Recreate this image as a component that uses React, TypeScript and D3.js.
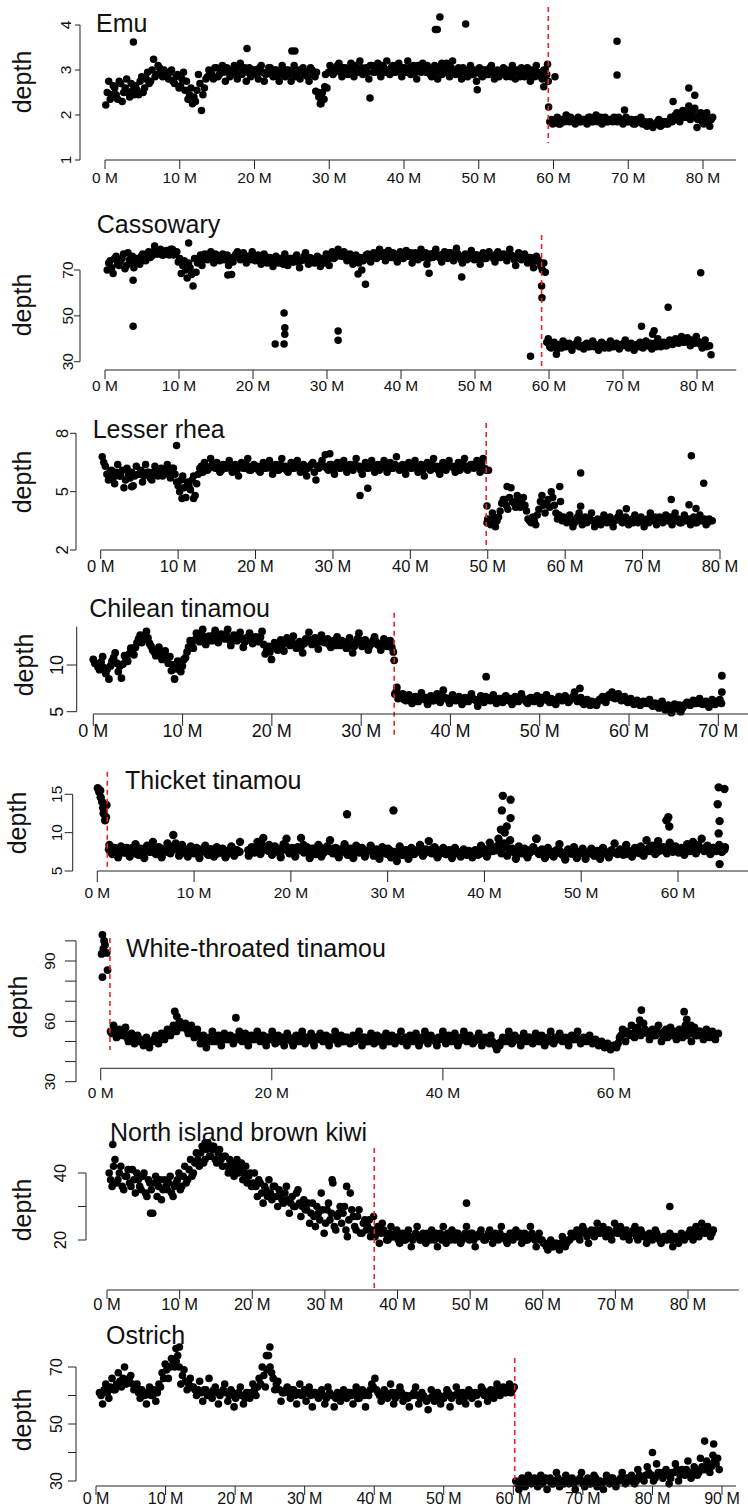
import React, { useEffect } from 'react';
import * as d3 from 'd3';

// ---------------- DATA (depth per window; positions in Mb) ----------------
// Each genome has two interleaved window series (A and B, offset by half a step) plus isolated outliers.
const emuStart = 0.1, emuStartB = 0.3, emuStep = 0.4, emuBreak = 59.3;
const emuDepth = [
  2.22, 2.75, 2.45, 2.6, 2.35, 2.7, 2.5, 2.8, 2.4, 2.55,
  2.65, 2.45, 2.85, 2.6, 2.95, 2.75, 3.24, 2.9, 3.05, 2.85,
  2.95, 2.8, 3.0, 2.7, 2.9, 2.65, 2.95, 2.75, 2.45, 2.25,
  2.3, 2.9, 2.1, 2.6, 2.85, 2.95, 2.8, 3.05, 2.9, 3.1,
  2.75, 3.0, 2.9, 3.1, 2.8, 3.15, 2.95, 2.75, 3.05, 2.9,
  3.0, 2.8, 3.1, 2.75, 2.95, 3.05, 2.85, 3.0, 2.75, 3.1,
  2.85, 3.0, 2.75, 3.1, 2.9, 2.8, 3.05, 2.95, 2.75, 3.0,
  2.85, 2.5, 2.25, 2.35, 2.6, 3.1, 2.9, 3.0, 3.15, 2.85,
  3.05, 2.9, 3.15, 2.85, 3.0, 3.2, 2.9, 3.05, 2.8, 3.1,
  2.95, 3.15, 2.85, 3.05, 3.2, 2.9, 3.1, 2.95, 3.15, 2.85,
  3.05, 3.2, 2.9, 3.1, 2.8, 3.0, 3.15, 2.95, 3.05, 2.85,
  3.1, 2.8, 3.0, 2.95, 3.15, 2.85, 3.2, 2.9, 3.05, 2.8,
  3.0, 2.85, 3.1, 2.9, 2.75, 3.05, 2.85, 3.0, 2.9, 3.1,
  2.8, 3.0, 2.9, 3.05, 2.85, 2.95, 3.1, 2.8, 2.95, 3.05,
  2.85, 3.05, 2.75, 2.95, 3.1, 2.9, 2.8, 3.0, 2.75, 1.9,
  1.85, 1.95, 1.8, 1.9, 2.0, 1.85, 1.9, 1.8, 1.95, 1.85,
  1.9, 1.8, 1.95, 1.85, 2.0, 1.9, 1.8, 1.95, 1.85, 1.9,
  1.95, 1.85, 1.9, 1.8, 1.95, 1.85, 1.9, 1.8, 1.85, 1.95,
  1.8, 1.75, 1.85, 1.72, 1.8, 1.9, 1.78, 1.85, 1.8, 1.95,
  1.9, 2.05, 1.85, 2.1, 1.95, 2.2, 2.0, 2.15, 1.9, 2.05,
  1.8, 2.05, 1.75, 1.95,
];
const emuDepthB = [
  2.5, 2.35, 2.65, 2.45, 2.75, 2.3, 2.6, 2.5, 2.7, 2.45,
  2.55, 2.75, 2.5, 2.8, 2.7, 3.0, 2.85, 3.1, 2.95, 3.0,
  2.85, 2.95, 2.75, 2.85, 2.6, 2.8, 2.55, 2.35, 2.6, 2.4,
  2.55, 2.7, 2.45, 2.8, 3.0, 2.9, 3.05, 2.85, 3.0, 2.95,
  3.05, 2.85, 3.0, 2.95, 3.05, 2.9, 3.05, 2.95, 2.85, 3.0,
  2.9, 3.05, 2.95, 2.9, 3.05, 2.9, 3.0, 2.85, 2.95, 2.9,
  3.0, 2.9, 2.95, 2.85, 3.0, 3.0, 2.9, 2.85, 3.05, 2.9,
  2.95, 2.4, 2.5, 2.9, 2.95, 3.05, 2.95, 3.1, 2.95, 3.05,
  2.95, 3.05, 3.0, 3.1, 2.95, 3.05, 3.0, 2.95, 3.1, 2.95,
  3.05, 2.95, 3.1, 2.95, 3.0, 3.05, 2.95, 3.1, 3.0, 3.05,
  2.95, 3.05, 3.0, 2.95, 3.1, 2.95, 3.0, 3.1, 2.9, 3.0,
  2.95, 3.05, 2.9, 3.05, 2.95, 3.05, 3.0, 2.95, 2.9, 3.05,
  2.95, 3.0, 2.9, 3.0, 2.95, 2.9, 3.0, 2.9, 3.05, 2.95,
  2.95, 2.85, 3.0, 2.9, 3.0, 2.85, 2.95, 3.0, 2.85, 2.9,
  2.95, 2.9, 3.0, 2.85, 2.95, 2.85, 3.0, 2.9, 1.85, 1.8,
  1.9, 1.8, 1.9, 1.85, 1.9, 1.95, 1.85, 1.9, 1.85, 1.9,
  1.85, 1.95, 1.85, 1.9, 1.85, 1.95, 1.9, 1.85, 1.9, 1.85,
  1.9, 1.95, 1.85, 1.9, 1.85, 1.9, 1.8, 1.9, 1.85, 1.8,
  1.85, 1.8, 1.78, 1.8, 1.85, 1.75, 1.85, 1.8, 1.88, 1.85,
  2.0, 1.9, 2.0, 1.95, 2.05, 1.9, 2.1, 1.95, 2.0, 1.85,
  1.95, 1.85, 1.9,
];
const emuOutliers = [
  [3.8, 3.62], [19.0, 3.48], [25.0, 3.42], [25.4, 3.42], [28.2, 2.53], [28.8, 2.25],
  [29.4, 2.63], [28.6, 2.4], [35.45, 2.38], [44.2, 3.9], [44.45, 3.9], [44.8, 4.18],
  [48.25, 4.02], [45.05, 3.15], [49.8, 2.56], [58.7, 2.63], [59.2, 3.13], [59.35, 2.18],
  [60.2, 2.85], [68.5, 3.64], [68.5, 2.89], [69.5, 2.11], [76.0, 2.3], [78.1, 2.6],
  [78.9, 2.44], [79.2, 1.72],
];

const casStart = 0.3, casStartB = 0.5, casStep = 0.4, casBreak = 59.0;
const casDepth = [
  70, 74, 68.5, 76, 72, 75, 70.5, 77.5, 73, 71,
  75, 72.5, 77, 74, 78, 76, 80.5, 77, 79, 76.5,
  78.5, 76.5, 79, 77, 73.5, 68.5, 74, 66.5, 71, 63,
  69, 75, 72, 77, 74.5, 78, 73, 76.5, 74, 77,
  75, 72, 68, 76, 78, 74.5, 77.5, 73, 76, 78,
  74, 76.5, 72.5, 77, 73, 75.5, 71.5, 76, 73, 74.5,
  77, 72, 75, 73.5, 76.5, 71, 74.5, 77.5, 72.5, 75,
  73, 76, 71.5, 74.5, 77, 72, 78, 75.5, 79, 76,
  78, 74, 77, 72.5, 76.5, 73, 70, 75, 77, 73.5,
  77.5, 75, 79, 76, 74, 78.5, 75.5, 77, 73.5, 78,
  75, 78.5, 76, 73, 77.5, 74.5, 79, 76, 72.5, 77,
  75.5, 79, 76.5, 73.5, 78, 75, 77.5, 74, 79.5, 76,
  73, 77, 75, 78.5, 74.5, 76.5, 72.5, 77.5, 75, 78,
  76, 73.5, 78, 75.5, 77, 74, 79, 76, 72, 77.5,
  74.5, 77, 73, 75.5, 71, 76, 73.5, 70, 69, 40,
  36, 38.5, 35.5, 37.5, 39, 36.5, 38, 35, 37.5, 39.5,
  37, 35.5, 38, 36.5, 39, 37.5, 35, 38.5, 36, 37.5,
  39, 36.5, 38, 35.5, 37, 39.5, 36, 38, 35, 37.5,
  38.5, 36, 39, 37, 35.5, 38, 40, 36.5, 38.5, 37,
  39.5, 37.5, 40, 38, 41, 38.5, 40.5, 37, 39, 41,
  38, 36, 39.5, 37, 33,
];
const casDepthB = [
  73, 71, 75, 72.5, 74, 77, 72, 74.5, 76, 73.5,
  73, 76, 74.5, 77, 75.5, 78, 77, 78.5, 76.5, 78,
  77, 79, 76.5, 78, 75, 72, 70, 73, 68, 75,
  73, 76.5, 74.5, 75.5, 76, 75, 77, 75, 76, 74.5,
  76.5, 75, 73.5, 77, 75.5, 76.5, 75, 76, 74.5, 75.5,
  75.5, 74, 75.5, 74, 75.5, 73.5, 74.5, 73.5, 75, 72.5,
  74.5, 75, 73.5, 75.5, 73.5, 74, 76, 74, 75.5, 73.5,
  74.5, 73.5, 75, 73, 74.5, 76, 75, 77, 76.5, 77.5,
  75.5, 76.5, 74.5, 75.5, 74, 75.5, 74, 76.5, 74.5, 76,
  76, 77.5, 76, 77.5, 76.5, 75.5, 77.5, 75, 76.5, 75.5,
  77, 76, 77.5, 75.5, 75, 76.5, 75.5, 77.5, 75, 75.5,
  77.5, 76, 75, 77, 76, 77.5, 75.5, 76.5, 77, 74.5,
  75.5, 74.5, 76.5, 75.5, 76.5, 74.5, 76, 75, 77, 76,
  75, 77, 75.5, 76.5, 75.5, 76, 76.5, 74.5, 75.5, 75,
  76, 74.5, 75.5, 73, 74, 74.5, 71.5, 73, 38.5, 36.5,
  37, 36.5, 37.5, 36, 38, 37.5, 36.5, 37, 38, 36.5,
  36.5, 37.5, 36.5, 37.5, 36.5, 37, 36.5, 37, 37.5, 36,
  37.5, 37, 36.5, 37.5, 38, 37, 37.5, 36.5, 37, 36.5,
  37, 37.5, 37, 38, 37, 36.5, 38.5, 37.5, 37, 38.5,
  38, 39, 38.5, 39.5, 38.5, 39.5, 38.5, 39.5, 38, 39,
  37.5, 38.5, 36.5, 37,
];
const casOutliers = [
  [3.8, 45.5], [3.8, 65.5], [11.3, 81.8], [16.6, 67.8], [23.0, 37.7], [24.2, 51.2],
  [24.3, 44.8], [24.3, 42], [24.2, 37.7], [31.5, 43.4], [31.5, 39.4], [34.2, 68.3],
  [35.2, 63.8], [43.8, 68.6], [48.2, 67], [57.5, 32.4], [59.0, 63], [59.05, 57.9],
  [61.0, 33.3], [72.5, 45.5], [74.2, 43.5], [74.0, 42], [76.1, 53.7], [80.5, 68.8],
];

const rheaStart = 0.2, rheaStartB = 0.4, rheaStep = 0.4, rheaBreak = 49.8;
const rheaDepth = [
  6.8, 6.3, 5.6, 6.1, 5.4, 6.4, 5.8, 5.2, 6.2, 5.7,
  5.3, 6.3, 5.9, 5.5, 6.4, 6.0, 5.6, 6.3, 5.8, 6.2,
  5.9, 6.4, 5.7, 6.2, 5.5, 5.0, 5.8, 4.7, 5.3, 5.6,
  4.8, 5.9, 6.3, 6.5, 6.1, 6.7, 6.3, 6.5, 6.0, 6.4,
  6.2, 6.6, 6.0, 6.4, 5.8, 6.5, 6.2, 6.7, 6.1, 6.4,
  6.3, 6.0, 6.5, 6.2, 6.6, 5.9, 6.4, 6.1, 6.7, 6.3,
  6.0, 6.5, 6.2, 6.6, 6.0, 6.4, 5.8, 6.3, 6.5, 5.6,
  6.2, 6.6, 6.9, 6.1, 6.4, 5.9, 6.5, 6.2, 6.6, 6.0,
  6.4, 6.1, 6.7, 6.3, 5.9, 6.5, 6.2, 6.6, 6.0, 6.4,
  6.3, 6.6, 6.0, 6.5, 6.2, 6.8, 6.1, 6.4, 5.9, 6.5,
  6.2, 6.6, 6.0, 6.4, 5.8, 6.5, 6.1, 6.7, 6.3, 5.9,
  6.5, 6.1, 6.6, 6.3, 6.0, 6.5, 6.2, 6.7, 6.1, 6.4,
  6.2, 6.6, 6.0, 6.7, 6.1, 3.4, 3.9, 3.2, 3.7, 4.4,
  4.6, 4.1, 5.2, 4.4, 4.8, 4.2, 4.7, 4.0, 3.5, 3.7,
  3.3, 4.1, 4.8, 3.9, 4.6, 5.0, 4.3, 3.6, 4.5, 3.7,
  3.4, 3.8, 3.2, 3.6, 3.9, 3.3, 3.7, 3.5, 3.9, 3.2,
  3.6, 3.3, 3.8, 3.4, 3.7, 3.2, 3.6, 3.9, 3.4, 3.7,
  3.3, 3.6, 3.8, 3.4, 3.7, 3.2, 3.6, 3.9, 3.5, 3.3,
  3.7, 3.4, 3.8, 3.5, 3.3, 3.9, 3.6, 3.4, 3.8, 3.5,
  3.3, 3.7, 3.4, 3.8, 3.5, 3.3, 3.6, 3.5,
];
const rheaDepthB = [
  6.5, 5.9, 6.0, 5.7, 6.0, 5.8, 6.1, 5.6, 5.9, 6.0,
  5.8, 5.9, 6.1, 5.8, 6.0, 5.7, 6.0, 5.9, 6.1, 5.8,
  6.1, 6.0, 6.2, 5.9, 5.3, 5.6, 5.2, 5.5, 5.1, 5.8,
  5.4, 6.2, 6.0, 6.3, 6.2, 6.4, 6.2, 6.3, 6.1, 6.3,
  6.4, 6.2, 6.3, 6.1, 6.3, 6.2, 6.4, 6.1, 6.3, 6.2,
  6.1, 6.3, 6.2, 6.4, 6.2, 6.3, 6.1, 6.4, 6.2, 6.1,
  6.3, 6.2, 6.4, 6.2, 6.3, 6.1, 6.2, 6.4, 6.0, 6.3,
  6.4, 6.3, 6.2, 6.4, 6.1, 6.3, 6.2, 6.4, 6.2, 6.3,
  6.2, 6.4, 6.3, 6.1, 6.3, 6.2, 6.4, 6.2, 6.3, 6.1,
  6.4, 6.2, 6.3, 6.2, 6.4, 6.3, 6.2, 6.1, 6.3, 6.2,
  6.4, 6.2, 6.3, 6.1, 6.3, 6.2, 6.4, 6.2, 6.1, 6.3,
  6.2, 6.4, 6.3, 6.2, 6.3, 6.1, 6.4, 6.3, 6.2, 6.4,
  6.4, 6.3, 6.5, 6.2, 3.6, 3.3, 3.6, 3.5, 4.0, 4.6,
  4.3, 4.7, 4.5, 4.2, 4.5, 4.4, 4.3, 3.6, 3.4, 3.5,
  3.8, 4.5, 4.3, 4.4, 4.2, 4.7, 3.9, 3.8, 3.5, 3.6,
  3.6, 3.5, 3.4, 3.7, 3.5, 3.6, 3.4, 3.6, 3.5, 3.5,
  3.5, 3.6, 3.5, 3.6, 3.4, 3.5, 3.7, 3.5, 3.6, 3.4,
  3.5, 3.4, 3.6, 3.6, 3.5, 3.5, 3.4, 3.6, 3.7, 3.5,
  3.5, 3.6, 3.5, 3.7, 3.6, 3.5, 3.4, 3.6, 3.5, 3.6,
  3.5, 3.4, 3.6, 3.5, 3.6, 3.4, 3.5,
];
const rheaOutliers = [
  [9.8, 7.37], [10.5, 4.65], [12.0, 4.65], [4.0, 5.25], [29.6, 6.95], [33.5, 4.8],
  [34.5, 5.17], [49.9, 4.26], [49.9, 3.4], [50.1, 6.1], [52.5, 5.26], [59.3, 5.26],
  [62.0, 5.96], [62.0, 4.25], [67.9, 4.12], [73.7, 4.6], [76.3, 6.84], [76.0, 4.33],
  [76.9, 4.13], [77.9, 5.43],
];

const chiStart = 0.0, chiStartB = 0.175, chiStep = 0.35, chiBreak = 33.7;
const chiDepth = [
  10.6, 10.1, 9.5, 10.9, 9.1, 8.5, 10.4, 11.3, 9.3, 8.6,
  11.0, 10.4, 11.8, 11.1, 12.4, 13.2, 12.7, 13.6, 12.3, 11.6,
  11.0, 11.9, 10.6, 11.5, 10.2, 9.4, 8.5, 10.4, 9.3, 10.6,
  11.4, 12.6, 11.8, 13.4, 12.5, 13.8, 12.2, 13.1, 12.6, 13.7,
  12.4, 13.3, 12.8, 13.8, 12.1, 13.2, 12.6, 13.5, 11.9, 12.9,
  13.4, 12.3, 13.0, 12.5, 13.6, 11.2, 12.0, 10.6, 12.4, 11.6,
  12.7, 11.5, 12.9, 12.1, 13.1, 11.8, 12.5, 11.3, 12.8, 13.5,
  12.2, 12.9, 11.7, 13.2, 12.4, 12.8, 11.9, 12.6, 13.0, 12.1,
  12.5, 11.8, 12.9, 11.3, 12.4, 13.4, 12.0, 12.7, 11.6, 12.3,
  13.0, 12.2, 11.6, 12.8, 12.0, 12.6, 11.4, 7.2, 6.5, 6.9,
  6.2, 6.8, 5.9, 6.6, 6.1, 7.0, 6.3, 5.8, 6.7, 6.2,
  6.9, 6.0, 7.3, 6.4, 5.9, 6.8, 6.2, 6.6, 5.8, 6.5,
  6.1, 6.9, 6.3, 5.6, 6.7, 6.0, 6.5, 6.2, 6.8, 5.9,
  6.4, 6.0, 6.7, 6.2, 5.8, 6.6, 6.1, 6.9, 6.3, 5.9,
  6.5, 6.1, 6.7, 5.9, 6.4, 6.8, 6.0, 6.3, 5.8, 6.6,
  6.2, 6.7, 6.0, 6.4, 7.1, 6.1, 6.5, 5.8, 6.3, 5.7,
  6.0, 5.7, 6.3, 6.6, 6.0, 6.8, 7.1, 6.4, 6.9, 6.2,
  6.6, 6.0, 6.4, 5.8, 6.2, 5.7, 6.1, 5.9, 6.3, 5.6,
  5.9, 5.4, 6.1, 5.2, 5.7, 4.9, 5.8, 5.3, 5.0, 5.6,
  6.0, 5.7, 6.2, 5.9, 6.4, 5.8, 6.1, 5.5, 6.3, 5.8,
  6.1, 5.9,
];
const chiDepthB = [
  10.2, 9.8, 10.3, 9.7, 9.6, 9.9, 10.8, 10.2, 9.9, 10.1,
  10.6, 11.2, 11.4, 11.9, 12.8, 12.4, 13.1, 12.9, 12.0, 11.4,
  11.4, 11.2, 11.0, 10.8, 10.9, 10.0, 9.6, 9.8, 9.9, 10.8,
  11.9, 12.3, 12.7, 12.9, 13.1, 13.0, 12.8, 12.7, 13.2, 12.9,
  12.8, 12.9, 13.2, 12.7, 12.6, 12.9, 13.0, 12.8, 12.5, 12.7,
  12.8, 12.9, 12.7, 13.0, 12.2, 11.6, 11.4, 11.9, 11.8, 12.0,
  12.2, 12.4, 12.3, 12.6, 12.2, 12.1, 12.0, 12.3, 12.6, 12.7,
  12.6, 12.4, 12.5, 12.7, 12.6, 12.2, 12.4, 12.1, 12.5, 12.6,
  12.2, 12.3, 12.1, 12.0, 12.8, 12.6, 12.3, 12.2, 12.1, 12.6,
  12.5, 12.1, 12.3, 12.4, 12.3, 11.9, 6.9, 6.4, 6.7, 6.3,
  6.5, 6.3, 6.4, 6.2, 6.6, 6.4, 6.5, 6.3, 6.2, 6.6,
  6.4, 6.6, 6.5, 6.3, 6.5, 6.3, 6.4, 6.2, 6.4, 6.3,
  6.5, 6.4, 6.2, 6.3, 6.4, 6.6, 6.3, 6.5, 6.2, 6.3,
  6.2, 6.5, 6.3, 6.4, 6.3, 6.2, 6.5, 6.4, 6.1, 6.4,
  6.3, 6.4, 6.2, 6.5, 6.3, 6.2, 6.4, 6.1, 6.3, 6.4,
  6.5, 6.3, 6.2, 6.6, 6.4, 6.3, 6.0, 6.2, 6.0, 6.1,
  5.9, 6.1, 6.4, 6.2, 6.5, 6.6, 6.5, 6.7, 6.4, 6.5,
  6.3, 6.2, 6.1, 6.0, 6.0, 5.9, 6.0, 6.1, 5.8, 5.9,
  5.6, 5.8, 5.5, 5.6, 5.3, 5.5, 5.4, 5.7, 5.4, 5.8,
  5.8, 6.0, 5.9, 6.1, 5.9, 6.0, 5.8, 5.9, 6.0, 6.1,
  6.3,
];
const chiOutliers = [
  [44.0, 8.75], [54.5, 7.5], [70.4, 8.85], [70.4, 7.1], [33.7, 10.5], [34.0, 7.6],
];

const thkStart = 0.05, thkStartB = 1.2, thkStep = 0.3, thkBreak = 1.03;
const thkDepth = [
  15.8, 14.6, 12.5, 13.6, 8.4, 7.2, 7.9, 6.8, 8.2, 7.4,
  8.0, 6.9, 7.7, 8.5, 7.1, 7.8, 6.7, 8.3, 7.5, 8.8,
  7.2, 8.1, 6.8, 7.6, 8.6, 7.3, 9.7, 8.0, 7.0, 8.4,
  7.6, 6.9, 8.2, 7.3, 8.0, 6.7, 7.7, 8.3, 7.1, 7.8,
  6.9, 8.1, 7.4, 7.9, 6.8, 7.6, 8.2, 7.0, 7.7, 8.8,
  null, null, 7.0, 8.1, 7.4, 8.8, 7.2, 9.3, 7.8, 8.4,
  7.1, 8.2, 7.5, 6.8, 8.5, 9.2, 7.3, 8.0, 6.9, 7.8,
  9.3, 7.4, 8.1, 6.7, 7.9, 7.2, 8.4, 6.9, 7.6, 8.2,
  9.0, 7.3, 8.0, 6.8, 7.7, 8.5, 7.1, 7.9, 6.7, 8.3,
  7.4, 8.0, 6.9, 7.6, 8.3, 7.0, 7.8, 6.6, 8.1, 7.3,
  7.9, 6.8, 7.5, 6.3, 8.2, 7.1, 7.7, 6.6, 8.0, 7.2,
  7.6, 8.4, 7.0, 7.8, 8.9, 7.3, 8.1, 6.8, 7.5, 8.0,
  7.2, 7.7, 6.7, 8.0, 7.3, 6.9, 7.8, 7.1, 7.5, 6.8,
  7.7, 7.1, 8.3, 7.4, 6.9, 8.7, 7.6, 8.1, 9.2, 7.3,
  8.6, 7.0, 9.0, 7.5, 6.6, 8.2, 7.3, 7.9, 6.8, 7.6,
  8.1, 9.2, 7.2, 7.8, 6.7, 8.0, 7.4, 6.9, 7.7, 8.5,
  7.1, 6.5, 7.8, 7.3, 8.1, 6.7, 7.5, 7.9, 6.6, 7.4,
  7.9, 7.0, 7.6, 6.6, 8.0, 7.3, 6.8, 7.7, 8.6, 7.2,
  7.8, 7.1, 8.4, 7.5, 6.9, 8.0, 7.4, 8.2, 7.0, 9.0,
  7.6, 8.3, 7.2, 8.9, 7.7, 8.1, 7.3, 8.7, 7.5, 8.2,
  7.4, 8.0, 7.1, 8.5, 7.6, 8.8, 7.3, 8.1, 9.2, 7.7,
  8.3, 7.2, 8.0, 7.6, 8.4, 7.5, 8.1,
];
const thkDepthB = [
  7.8, 7.5, 8.0, 7.3, 7.7, 7.9, 7.4, 7.6, 8.0, 7.3,
  7.6, 7.9, 7.4, 7.8, 7.5, 8.1, 7.6, 7.3, 7.9, 7.6,
  7.5, 8.2, 7.8, 8.6, 7.7, 8.0, 7.4, 7.8, 7.5, 7.7,
  7.4, 7.8, 7.5, 7.6, 7.3, 7.8, 7.5, 7.2, 7.7, 7.4,
  7.6, 7.3, 7.5, 7.8, 7.4, 7.5, null, null, 7.7, 7.9,
  7.7, 8.0, 7.5, 8.3, 7.8, 7.6, 8.1, 7.7, 7.9, 7.4,
  7.8, 8.2, 7.6, 7.9, 7.5, 8.1, 7.7, 8.4, 7.6, 7.9,
  7.5, 7.9, 7.7, 8.0, 7.4, 7.8, 7.6, 7.9, 7.5, 7.7,
  7.8, 7.5, 7.9, 7.6, 7.4, 7.8, 7.5, 7.7, 7.3, 7.6,
  7.7, 7.4, 7.6, 7.3, 7.7, 7.5, 7.2, 7.6, 7.4, 7.3,
  7.5, 7.1, 7.4, 7.6, 7.3, 7.7, 7.5, 7.6, 7.8, 7.4,
  7.6, 7.8, 7.4, 7.7, 7.3, 7.5, 7.2, 7.6, 7.4, 7.3,
  7.5, 7.2, 7.4, 7.3, 7.6, 7.4, 7.2, 7.5, 7.3, 7.6,
  7.8, 7.5, 8.0, 7.7, 8.3, 7.9, 8.5, 8.1, 7.6, 7.9,
  7.6, 7.3, 7.8, 7.5, 7.7, 7.4, 7.9, 7.6, 7.3, 7.7,
  7.4, 7.6, 7.2, 7.5, 7.3, 7.7, 7.4, 7.1, 7.5, 7.3,
  7.2, 7.5, 7.3, 7.6, 7.2, 7.4, 7.3, 7.1, 7.4, 7.6,
  7.3, 7.5, 7.2, 7.6, 7.4, 7.3, 7.7, 7.5, 7.2, 7.6,
  7.4, 7.7, 7.5, 7.3, 7.8, 7.6, 8.0, 7.7, 7.9, 7.5,
  8.1, 7.8, 7.6, 8.0, 7.7, 7.9, 7.5, 7.8, 7.6, 8.2,
  7.7, 8.1, 7.8, 8.4, 7.9, 7.6, 8.2, 7.8, 8.0, 7.7,
  7.9, 7.5, 7.8,
];
const thkOutliers = [
  [0.2, 15.3], [0.5, 14.0], [0.8, 11.6], [0.9, 12.0], [0.6, 13.2], [0.3, 15.5],
  [25.8, 12.4], [30.6, 12.9], [41.9, 14.8], [42.7, 14.3], [41.8, 12.9], [42.7, 11.9],
  [42.3, 10.8], [41.7, 10.4], [42.1, 10.0], [45.4, 9.2], [59.0, 12.0], [58.8, 11.6],
  [59.1, 10.8], [64.2, 15.9], [64.8, 15.7], [64.1, 13.7], [64.3, 11.5], [64.2, 9.9],
  [64.3, 5.9],
];

const wttStart = 1.15, wttStartB = 1.325, wttStep = 0.35, wttBreak = 1.08;
const wttDepth = [
  55, 58, 52, 56, 53, 57, 50, 54, 49, 53,
  51, 48, 52, 47, 50, 53, 49, 54, 51, 56,
  53, 58, 55, 60, 57, 59, 54, 58, 52, 56,
  49, 53, 47, 52, 55, 50, 53, 48, 54, 51,
  53, 49, 52, 55, 50, 54, 48, 53, 51, 55,
  50, 53, 48, 52, 55, 49, 53, 51, 48, 54,
  51, 48, 53, 50, 55, 49, 52, 54, 48, 52,
  54, 50, 53, 48, 51, 55, 49, 53, 50, 52,
  49, 53, 51, 55, 48, 52, 50, 54, 49, 53,
  51, 48, 54, 50, 53, 49, 52, 55, 50, 48,
  53, 50, 54, 48, 52, 55, 49, 53, 51, 48,
  52, 55, 49, 53, 50, 54, 48, 52, 55, 50,
  53, 49, 51, 54, 48, 52, 50, 53, 49, 46,
  48, 52, 50, 55, 49, 53, 51, 48, 54, 50,
  52, 49, 54, 50, 53, 48, 52, 55, 49, 51,
  54, 50, 52, 48, 53, 51, 55, 49, 52, 50,
  53, 49, 51, 48, 50, 47, 49, 46, 48, 47,
  52, 56, 50, 54, 58, 52, 57, 53, 59, 55,
  51, 56, 53, 58, 50, 55, 52, 57, 54, 51,
  56, 52, 58, 54, 50, 57, 53, 55, 51, 56,
  52, 55, 51, 54,
];
const wttDepthB = [
  54, 55, 53, 54, 55, 52, 53, 51, 52, 50,
  50, 51, 49, 50, 51, 51, 52, 52, 53, 54,
  55, 56, 57, 57, 58, 56, 56, 55, 54, 53,
  51, 50, 51, 50, 51, 52, 51, 52, 51, 52,
  51, 52, 51, 53, 52, 51, 52, 51, 52, 53,
  52, 51, 52, 51, 52, 51, 50, 52, 51, 52,
  50, 52, 51, 52, 51, 52, 51, 50, 52, 51,
  52, 51, 50, 52, 51, 52, 51, 50, 52, 51,
  51, 50, 52, 51, 52, 50, 51, 52, 51, 50,
  52, 51, 50, 52, 51, 52, 51, 50, 52, 51,
  51, 52, 51, 50, 52, 51, 52, 51, 50, 52,
  51, 52, 50, 51, 52, 51, 50, 52, 51, 52,
  51, 50, 52, 51, 50, 51, 49, 50, 48, 49,
  50, 51, 52, 51, 50, 52, 51, 52, 51, 52,
  51, 52, 51, 50, 52, 51, 50, 51, 52, 51,
  52, 51, 50, 52, 51, 52, 51, 50, 51, 52,
  51, 50, 50, 49, 49, 48, 48, 47, 48, 49,
  53, 54, 55, 53, 54, 56, 55, 54, 56, 54,
  54, 53, 55, 54, 53, 56, 54, 53, 55, 54,
  54, 55, 53, 56, 54, 53, 55, 54, 53, 55,
  54, 53,
];
const wttOutliers = [
  [0.2, 103], [0.4, 100], [0.5, 98], [0.3, 96], [0.1, 93.5], [0.7, 94], [0.2, 82],
  [0.8, 85.5], [8.66, 65], [8.9, 62.5], [15.8, 61.8], [63.2, 65.6], [63.0, 60.6],
  [68.2, 64.8], [68.5, 61], [69.0, 58],
];

const kiwiStart = 0.3, kiwiStartB = 0.5, kiwiStep = 0.4, kiwiBreak = 36.8;
const kiwiDepth = [
  40, 36, 44, 38, 42, 35, 39, 37, 41, 34,
  38, 35, 40, 33, 37, 28, 39, 36, 32, 38,
  35, 39, 33, 37, 40, 36, 42, 38, 44, 40,
  46, 42, 48, 44, 49, 45, 48, 43, 47, 42,
  45, 40, 43, 39, 44, 41, 38, 42, 39, 36,
  40, 33, 37, 31, 35, 38, 32, 36, 30, 34,
  31, 36, 28, 33, 30, 35, 27, 32, 29, 25,
  31, 24, 28, 34, 22, 29, 26, 37, 23, 28,
  25, 30, 21, 34, 27, 23, 29, 22, 26, 24,
  21, 27, 23, 19, 25, 22, 20, 24, 21, 23,
  19, 22, 20, 23, 18, 21, 24, 20, 22, 19,
  21, 23, 20, 18, 22, 24, 19, 21, 23, 20,
  22, 19, 21, 24, 20, 22, 18, 21, 23, 20,
  21, 23, 19, 22, 20, 24, 21, 19, 22, 20,
  23, 21, 19, 22, 20, 24, 21, 18, 22, 20,
  19, 17, 20, 18, 19, 17, 21, 18, 20, 22,
  21, 23, 20, 24, 22, 19, 23, 21, 25, 22,
  24, 21, 23, 20, 25, 22, 24, 21, 23, 20,
  22, 24, 20, 23, 21, 19, 22, 20, 23, 21,
  19, 21, 20, 22, 18, 21, 19, 22, 20, 21,
  23, 20, 24, 21, 25, 22, 24, 21, 23,
];
const kiwiDepthB = [
  38, 42, 37, 40, 36, 39, 41, 36, 38, 40,
  36, 39, 34, 38, 35, 37, 33, 38, 35, 36,
  37, 34, 36, 38, 35, 39, 37, 41, 39, 43,
  44, 46, 43, 47, 45, 47, 44, 46, 44, 45,
  42, 44, 41, 42, 40, 43, 40, 37, 40, 37,
  36, 38, 34, 36, 33, 34, 36, 33, 35, 32,
  34, 32, 31, 30, 34, 31, 30, 29, 31, 28,
  27, 30, 26, 29, 25, 31, 28, 24, 27, 30,
  28, 23, 26, 29, 24, 27, 22, 25, 23, 26,
  23, 21, 24, 22, 23, 20, 22, 21, 22, 20,
  21, 20, 22, 21, 20, 22, 21, 20, 21, 22,
  20, 21, 22, 21, 20, 21, 22, 20, 21, 22,
  21, 20, 22, 21, 22, 20, 21, 22, 21, 20,
  22, 21, 20, 21, 22, 21, 20, 21, 22, 21,
  21, 22, 21, 20, 21, 22, 20, 21, 20, 19,
  18, 19, 18, 19, 18, 19, 20, 19, 20, 21,
  22, 21, 22, 23, 21, 22, 22, 23, 22, 23,
  22, 23, 22, 22, 23, 22, 23, 22, 21, 22,
  23, 21, 22, 22, 21, 20, 21, 21, 22, 20,
  20, 21, 21, 20, 21, 20, 21, 21, 21, 22,
  22, 21, 23, 22, 23, 22, 23, 22,
];
const kiwiOutliers = [
  [0.8, 48.5], [6.0, 28], [13.5, 49], [14.5, 48], [31.0, 38], [33.0, 36], [49.5, 31],
  [77.5, 30],
];

const ostStart = 0.5, ostStartB = 0.725, ostStep = 0.45, ostBreak = 60.2;
const ostDepth = [
  61, 57, 64, 59, 66, 62, 68, 63, 70, 65,
  67, 62, 64, 59, 61, 57, 63, 60, 58, 64,
  68, 71, 66, 73, 70, 74, 64, 69, 62, 66,
  63, 60, 65, 58, 62, 66, 59, 63, 57, 61,
  64, 58, 62, 56, 60, 63, 57, 61, 59, 64,
  60, 66, 70, 63, 74, 68, 62, 65, 58, 61,
  63, 59, 62, 57, 64, 60, 58, 63, 56, 61,
  59, 62, 57, 63, 60, 56, 61, 58, 62, 59,
  61, 57, 63, 59, 62, 56, 60, 64, 66, 61,
  58, 62, 59, 64, 57, 61, 63, 58, 60, 56,
  60, 63, 57, 61, 59, 55, 62, 58, 61, 57,
  59, 62, 56, 60, 63, 58, 61, 57, 62, 59,
  61, 57, 63, 60, 58, 62, 59, 64, 60, 63,
  61, 64, 62, 30, 27, 31, 28, 32, 29, 31,
  28, 32, 30, 27, 31, 29, 33, 28, 30, 32,
  29, 31, 27, 30, 33, 28, 31, 29, 32, 28,
  30, 27, 32, 29, 31, 28, 30, 33, 29, 31,
  32, 29, 34, 31, 30, 35, 32, 30, 36, 33,
  31, 34, 29, 33, 36, 30, 34, 32, 37, 31,
  35, 32, 38, 34, 37, 33, 39, 36, 34,
];
const ostDepthB = [
  60, 62, 61, 63, 62, 64, 65, 66, 64, 66,
  64, 63, 61, 62, 60, 61, 60, 62, 61, 63,
  66, 69, 70, 71, 72, 70, 67, 65, 64, 63,
  62, 62, 61, 62, 60, 61, 62, 61, 60, 62,
  61, 60, 61, 59, 61, 60, 59, 60, 61, 62,
  63, 64, 67, 69, 70, 66, 64, 62, 61, 62,
  61, 62, 60, 61, 60, 62, 61, 60, 61, 60,
  61, 60, 59, 61, 60, 59, 60, 61, 60, 61,
  60, 61, 59, 61, 60, 61, 62, 63, 62, 60,
  60, 61, 60, 61, 59, 60, 61, 60, 59, 60,
  61, 60, 59, 60, 58, 59, 60, 59, 60, 59,
  60, 61, 59, 60, 61, 60, 59, 60, 61, 60,
  60, 61, 62, 61, 60, 61, 62, 61, 62, 61,
  62, 61, 63, 29, 30, 29, 30, 31, 30, 29,
  30, 29, 31, 30, 29, 30, 31, 30, 29, 30,
  30, 29, 30, 31, 29, 30, 29, 30, 31, 30,
  29, 30, 30, 31, 29, 30, 31, 30, 31, 30,
  31, 30, 32, 31, 32, 33, 32, 31, 33, 32,
  33, 32, 31, 33, 34, 32, 33, 34, 33, 32,
  34, 33, 35, 34, 36, 35, 37, 38,
];
const ostOutliers = [
  [11.5, 76.5], [12.0, 77], [25.0, 77], [24.5, 74], [80.0, 40], [87.5, 44], [88.8, 43],
];

const titles = [
  'Emu', 'Cassowary', 'Lesser rhea', 'Chilean tinamou', 'Thicket tinamou',
  'White-throated tinamou', 'North island brown kiwi', 'Ostrich',
];

// ---------------- LAYOUT ----------------
const layouts = [
  { xDom: [0, 80], xRng: [105, 703], yDom: [1, 4], yRng: [160, 25], xAxisY: 160, xEnd: 84.4,
    xTicks: d3.range(0, 81, 10), yAxisX: 80, yTicks: [1, 2, 3, 4], yLabels: [1, 2, 3, 4], yLine: [1, 4],
    yTickLen: 5, yLabelX: 71, xTickLen: 9, xLabelDy: 22.5, font: 15.5, title: [96, 32],
    depth: [31, 82], dash: [7, 143], r: 3.75 },
  { xDom: [0, 80], xRng: [105, 697], yDom: [30, 70], yRng: [361.7, 270], xAxisY: 370, xEnd: 85.3,
    xTicks: d3.range(0, 81, 10), yAxisX: 80, yTicks: [30, 50, 70], yLabels: [30, 50, 70], yLine: [30, 70],
    yTickLen: 6, yLabelX: 72.5, xTickLen: 9, xLabelDy: 21, font: 15.5, title: [96.7, 232.7],
    depth: [31, 305], dash: [235, 370], r: 3.75 },
  { xDom: [0, 80], xRng: [100.7, 720], yDom: [2, 8], yRng: [550, 433.3], xAxisY: 550, xEnd: 80,
    xTicks: d3.range(0, 81, 10), yAxisX: 76, yTicks: [2, 5, 8], yLabels: [2, 5, 8], yLine: [2, 8],
    yTickLen: 6, yLabelX: 67.5, xTickLen: 9, xLabelDy: 22, font: 16.5, title: [92.7, 438.3],
    depth: [31, 482], dash: [423, 550], r: 3.75 },
  { xDom: [0, 70], xRng: [93.3, 718.3], yDom: [5, 10], yRng: [711.7, 665], xAxisY: 714, xEnd: 75,
    xTicks: d3.range(0, 71, 10), yAxisX: 76.7, yTicks: [5, 10], yLabels: [5, 10], yLine: [5, 14.1],
    yTickLen: 10, yLabelX: 63, xTickLen: 12, xLabelDy: 22.7, font: 18, title: [89.3, 616.7],
    depth: [33, 665], dash: [612.7, 735], r: 3.9 },
  { xDom: [0, 60], xRng: [97.3, 678], yDom: [5, 15], yRng: [871, 794.3], xAxisY: 871, xEnd: 68,
    xTicks: d3.range(0, 61, 10), yAxisX: 72.7, yTicks: [5, 10, 15], yLabels: [5, 10, 15], yLine: [5, 15],
    yTickLen: 8, yLabelX: 61.5, xTickLen: 11, xLabelDy: 27, font: 15.5, title: [125, 789.3],
    depth: [26, 823], dash: [771.7, 870], r: 4.2 },
  { xDom: [0, 60], xRng: [100.7, 614], yDom: [30, 90], yRng: [1081.7, 961], xAxisY: 1068.3, xEnd: 60,
    xTicks: [0, 20, 40, 60], yAxisX: 76, yTicks: d3.range(30, 101, 10), yLabels: [30, 60, 90], yLine: [30, 100],
    yTickLen: 11, yLabelX: 55, xTickLen: 12, xLabelDy: 30, font: 15.5, title: [126, 957],
    depth: [27, 1007], dash: [938, 1050], r: 3.9 },
  { xDom: [0, 80], xRng: [107, 688], yDom: [20, 40], yRng: [1240, 1173], xAxisY: 1290, xEnd: 87,
    xTicks: d3.range(0, 81, 10), yAxisX: 86, yTicks: [20, 30, 40], yLabels: [20, 40], yLine: [20, 40],
    yTickLen: 8, yLabelX: 66, xTickLen: 9, xLabelDy: 20, font: 16.5, title: [110, 1141],
    depth: [31, 1210], dash: [1148, 1290], r: 3.8 },
  { xDom: [0, 90], xRng: [96, 722], yDom: [30, 70], yRng: [1481, 1367], xAxisY: 1486, xEnd: 92,
    xTicks: d3.range(0, 91, 10), yAxisX: 76, yTicks: [30, 40, 50, 60, 70], yLabels: [30, 50, 70], yLine: [30, 70],
    yTickLen: 8, yLabelX: 62, xTickLen: 9, xLabelDy: 17.5, font: 16, title: [106, 1344],
    depth: [31, 1420], dash: [1358, 1486], r: 3.8 },
];

const series = [
  { start: emuStart, startB: emuStartB, step: emuStep, depth: emuDepth, depthB: emuDepthB, outliers: emuOutliers, brk: emuBreak },
  { start: casStart, startB: casStartB, step: casStep, depth: casDepth, depthB: casDepthB, outliers: casOutliers, brk: casBreak },
  { start: rheaStart, startB: rheaStartB, step: rheaStep, depth: rheaDepth, depthB: rheaDepthB, outliers: rheaOutliers, brk: rheaBreak },
  { start: chiStart, startB: chiStartB, step: chiStep, depth: chiDepth, depthB: chiDepthB, outliers: chiOutliers, brk: chiBreak },
  { start: thkStart, startB: thkStartB, step: thkStep, depth: thkDepth, depthB: thkDepthB, outliers: thkOutliers, brk: thkBreak },
  { start: wttStart, startB: wttStartB, step: wttStep, depth: wttDepth, depthB: wttDepthB, outliers: wttOutliers, brk: wttBreak },
  { start: kiwiStart, startB: kiwiStartB, step: kiwiStep, depth: kiwiDepth, depthB: kiwiDepthB, outliers: kiwiOutliers, brk: kiwiBreak },
  { start: ostStart, startB: ostStartB, step: ostStep, depth: ostDepth, depthB: ostDepthB, outliers: ostOutliers, brk: ostBreak },
];

const FONT = '"Liberation Sans", Arial, Helvetica, sans-serif';
const AX = '#222';

function Panel({ idx }: { idx: number }) {
  const L: any = layouts[idx];
  const s: any = series[idx];
  const x = d3.scaleLinear().domain(L.xDom).range(L.xRng);
  const y = d3.scaleLinear().domain(L.yDom).range(L.yRng);
  const pts: number[][] = [];
  s.depth.forEach((v: number | null, i: number) => {
    if (v !== null) pts.push([s.start + i * s.step, v]);
  });
  s.depthB.forEach((v: number | null, i: number) => {
    if (v !== null) pts.push([s.startB + i * s.step, v]);
  });
  s.outliers.forEach((p: number[]) => pts.push(p));
  return (
    <g>
      {pts.map((p, i) => (
        <circle key={i} cx={x(p[0])} cy={y(p[1])} r={L.r} fill="#000" />
      ))}
      <line x1={x(s.brk)} x2={x(s.brk)} y1={L.dash[0]} y2={L.dash[1]}
        stroke="#e8242c" strokeWidth={1.6} strokeDasharray="5,4" />
      <line x1={x(0)} x2={x(L.xEnd)} y1={L.xAxisY} y2={L.xAxisY} stroke={AX} strokeWidth={1} />
      {L.xTicks.map((t: number) => (
        <g key={t}>
          <line x1={x(t)} x2={x(t)} y1={L.xAxisY} y2={L.xAxisY + L.xTickLen} stroke={AX} strokeWidth={1} />
          <text x={x(t)} y={L.xAxisY + L.xLabelDy} textAnchor="middle" fontSize={L.font}
            fontFamily={FONT} fill="#111">{`${t} M`}</text>
        </g>
      ))}
      <line x1={L.yAxisX} x2={L.yAxisX} y1={y(L.yLine[0])} y2={y(L.yLine[1])} stroke={AX} strokeWidth={1} />
      {L.yTicks.map((t: number) => (
        <line key={t} x1={L.yAxisX - L.yTickLen} x2={L.yAxisX} y1={y(t)} y2={y(t)} stroke={AX} strokeWidth={1} />
      ))}
      {L.yLabels.map((t: number) => (
        <text key={'l' + t} transform={`translate(${L.yLabelX},${y(t)}) rotate(-90)`} textAnchor="middle"
          fontSize={L.font} fontFamily={FONT} fill="#111">{t}</text>
      ))}
      <text x={L.title[0]} y={L.title[1]} fontSize={25} fontFamily={FONT} fill="#111">{titles[idx]}</text>
      <text transform={`translate(${L.depth[0]},${L.depth[1]}) rotate(-90)`} textAnchor="middle"
        fontSize={25} fontFamily={FONT} fill="#111">depth</text>
    </g>
  );
}

export default function App() {
  useEffect(() => {
    document.body.style.margin = '0';
  }, []);
  return (
    <svg width={748} height={1508} viewBox="0 0 748 1508"
      style={{ position: 'absolute', left: 0, top: 0, background: '#fff' }}>
      <rect x={0} y={0} width={748} height={1508} fill="#fff" />
      {layouts.map((_, i) => <Panel key={i} idx={i} />)}
    </svg>
  );
}
